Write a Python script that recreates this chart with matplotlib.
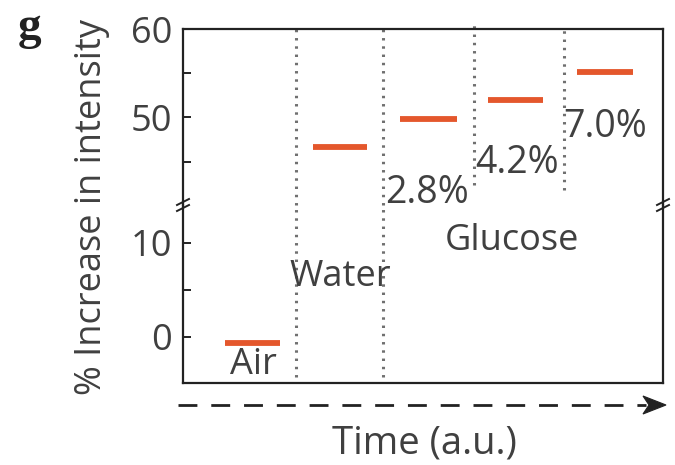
import matplotlib
matplotlib.use("Agg")
import matplotlib.pyplot as plt
from matplotlib.lines import Line2D
from matplotlib.patches import Polygon
from matplotlib.ticker import FixedLocator

plt.rcParams['font.family'] = ['Open Sans', 'DejaVu Sans']

# Time windows (a.u.) of each measured plateau and its level (% increase)
conditions = ["Air", "Water", "2.8%", "4.2%", "7.0%"]
t_start = [4.2, 13.0, 21.7, 30.5, 39.4]
t_end = [9.7, 18.4, 27.4, 36.0, 45.0]
levels = [-0.6, 46.7, 49.8, 52.0, 55.1]

# Solution-change markers (a.u.) and the lowest level each one reaches
change_times = [11.3, 20.0, 29.1, 38.1]
change_bottoms = [-4.3, -4.3, 42.4, 41.8]

upper_ticks = [50, 60]
upper_minor = [45, 55]
lower_ticks = [0, 10]
lower_minor = [5]

W, H = 675, 465
fig = plt.figure(figsize=(W / 100, H / 100), dpi=100)

def fx(px):
    return px / W

def fy(py):
    return 1 - py / H

ax_left, ax_right = 183, 663
ax_top, ax_break, ax_bottom = 29, 205, 383

ax_hi = fig.add_axes([fx(ax_left), fy(ax_break), fx(ax_right - ax_left),
                      (ax_break - ax_top) / H])
ax_lo = fig.add_axes([fx(ax_left), fy(ax_bottom), fx(ax_right - ax_left),
                      (ax_bottom - ax_break) / H], sharex=ax_hi)

ax_hi.set_ylim(40.1, 60)
ax_lo.set_ylim(-4.9, 14.0)
ax_hi.set_xlim(0, 48)

text_c = "#404040"
orange = "#E4572C"
dot_c = "#707070"
ink = "#222222"

for ax, major, minor in ((ax_hi, upper_ticks, upper_minor),
                         (ax_lo, lower_ticks, lower_minor)):
    ax.yaxis.set_major_locator(FixedLocator(major))
    ax.yaxis.set_minor_locator(FixedLocator(minor))
    ax.tick_params(axis='y', which='both', direction='in', length=5.5,
                   width=1.4, colors=ink, labelcolor=text_c,
                   labelsize=26, pad=8, right=False)
    ax.tick_params(axis='x', which='both', bottom=False, top=False,
                   labelbottom=False)
    for s in ax.spines.values():
        s.set_linewidth(1.6)
        s.set_color(ink)
    ax.patch.set_alpha(0)

ax_hi.spines['bottom'].set_visible(False)
ax_lo.spines['top'].set_visible(False)

# plateaus
for t0, t1, v in zip(t_start, t_end, levels):
    target = ax_hi if v > 20 else ax_lo
    target.plot([t0, t1], [v, v], color=orange, lw=4.2,
                solid_capstyle='butt', zorder=3)

# dotted change markers
dot_kw = dict(color=dot_c, lw=2.2, dashes=(0.8, 1.9), clip_on=False)
for t, b in zip(change_times, change_bottoms):
    if b < 20:
        ax_lo.plot([t, t], [b, 14.0], **dot_kw)
        ax_hi.plot([t, t], [40.1, 60.4], **dot_kw)
    else:
        ax_hi.plot([t, t], [b, 60.4], **dot_kw)

# labels inside the plot
lab_kw = dict(color=text_c, fontsize=26, ha='center', va='center')
ax_lo.text(7.0, -3.0, "Air", **lab_kw)
ax_lo.text(15.7, 6.4, "Water", **lab_kw)
ax_lo.text(32.9, 10.2, "Glucose", **lab_kw)
pct_kw = dict(lab_kw, fontsize=27)
ax_hi.text(24.4, 41.5, "2.8%", **pct_kw)
ax_hi.text(33.4, 44.8, "4.2%", **pct_kw)
ax_hi.text(42.2, 48.9, "7.0%", **pct_kw)

# axis break marks on both spines
for xs in (ax_left, ax_right):
    for dy in (-3, 3):
        fig.add_artist(Line2D([fx(xs - 6), fx(xs + 6)],
                              [fy(ax_break + dy + 3), fy(ax_break + dy - 3)],
                              color=ink, lw=1.4))

# dashed time arrow
fig.add_artist(Line2D([fx(178), fx(646)], [fy(405), fy(405)],
                      color=ink, lw=2.0, dashes=(6.8, 5.0)))
fig.add_artist(Polygon([[fx(666), fy(405)], [fx(643), fy(396)],
                        [fx(649), fy(405)], [fx(643), fy(414)]],
                       closed=True, transform=fig.transFigure,
                       facecolor=ink, edgecolor=ink, lw=0.8))

fig.text(fx(424), fy(443), "Time (a.u.)", color=text_c, fontsize=27.5,
         ha='center', va='center')
fig.text(fx(92), fy(207), "% Increase in intensity", color=text_c,
         fontsize=26, rotation=90, ha='center', va='center')
fig.text(fx(30), fy(28), "g", color=ink, fontsize=34,
         fontweight='bold', family='Liberation Serif',
         ha='center', va='center')

fig.savefig("out.png", dpi=100)
